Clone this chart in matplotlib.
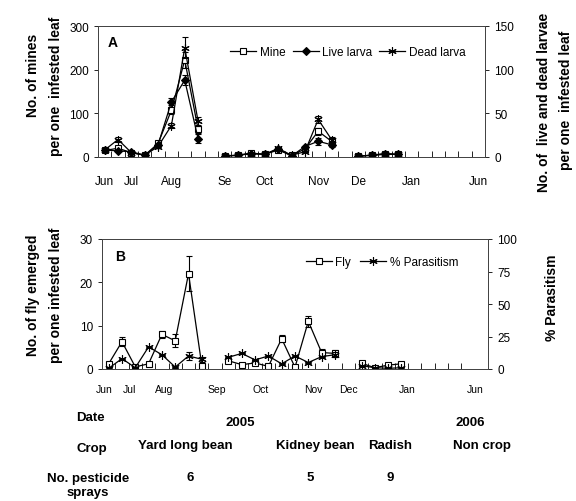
import numpy as np
import matplotlib
matplotlib.use("Agg")
import matplotlib.pyplot as plt
from matplotlib.lines import Line2D

plt.rcParams['font.family'] = ['Liberation Sans', 'DejaVu Sans']

nan = np.nan
# 29 sampling slots (Jun 2005 .. Jun 2006), gaps = crop change / no sampling
n_slots = 29

# Panel A - mines (left axis), larvae (right axis)
mine = [15, 20, 10, 4, 31, 107, 222, 64, nan, 3, 4, 9, 6, 16, 4, 18, 59, 36, nan, 2, 4, 7, 6] + [nan] * 6
mine_err = [0, 3, 0, 0, 0, 8, 18, 10, 0, 0, 0, 0, 0, 0, 0, 0, 8, 5, 0, 0, 0, 0, 0] + [0] * 6
live = [8, 7, 6, 2, 14, 63, 88, 21, nan, 1, 2, 4, 3, 9, 1, 12, 18, 14, nan, 1, 2, 3, 3] + [nan] * 6
live_err = [0, 0, 0, 0, 0, 4, 6, 5, 0, 0, 0, 0, 0, 0, 0, 0, 4, 3, 0, 0, 0, 0, 0] + [0] * 6
dead = [8, 20, 5, 2, 12, 36, 125, 41, nan, 1, 2, 4, 3, 10, 2, 6, 43, 20, nan, 1, 2, 4, 3] + [nan] * 6
dead_err = [0, 3, 0, 0, 0, 3, 12, 5, 0, 0, 0, 0, 0, 0, 0, 0, 4, 3, 0, 0, 0, 0, 0] + [0] * 6

# Panel B - flies emerged (left axis), % parasitism (right axis)
fly = [1.2, 6.3, 0.5, 1.2, 8.0, 6.5, 22, 0.8, nan, 1.9, 1.0, 1.4, 0.6, 7.0, 0.4, 11.0, 3.8, 3.6, nan, 1.3, 0.3, 0.9, 1.2] + [nan] * 6
fly_err = [0, 1.0, 0, 0, 0.8, 1.5, 4.0, 0, 0, 0, 0, 0, 0, 0.8, 0, 1.2, 0.8, 0.8, 0, 0, 0, 0, 0] + [0] * 6
paras = [0.5, 8, 1, 17, 11, 1.5, 10, 7.5, nan, 9, 12, 7, 10, 4, 10, 5, 9.5, 11, nan, 2.5, 1, 0.5, 1] + [nan] * 6
paras_err = [0, 0, 0, 0, 0, 0, 3, 2, 0, 0, 0, 0, 0, 0, 0, 0, 0, 2, 0, 0, 0, 0, 0] + [0] * 6

months_a = ['Jun', 'Jul', 'Aug', 'Se', 'Oct', 'Nov', 'De', 'Jan', 'Jun']
months_a_pos = [0, 2, 5, 9, 12, 16, 19, 23, 28]
months_b = ['Jun', 'Jul', 'Aug', 'Sep', 'Oct', 'Nov', 'Dec', 'Jan', 'Jun']
months_b_pos = [-0.35, 1.6, 4.2, 8.1, 11.4, 15.4, 18.0, 22.4, 27.5]

crops = ['Yard long bean', 'Kidney bean', 'Radish', 'Non crop']
crop_x = [185, 315, 390, 482]
sprays = ['6', '5', '9']
spray_x = [190, 310, 390]

x = np.arange(n_slots)
star = (6, 2, 0)

fig = plt.figure(figsize=(5.76, 5.02), dpi=100)


def px(xp, yp):
    return xp / 576, 1 - yp / 502


def setup_x(ax, pos, labels, fs, pad):
    ax.set_xlim(-0.5, n_slots - 0.5)
    ax.set_xticks(pos)
    ax.set_xticklabels(labels, fontsize=fs)
    ax.tick_params(axis='x', length=0, pad=pad)
    ax.set_xticks(np.arange(0.5, n_slots - 0.5, 1), minor=True)
    ax.tick_params(axis='x', which='minor', direction='in', length=4, width=0.6)


styles = {'Mine': ('s', 'white', 4.5), 'Live larva': ('D', 'black', 3.8),
          'Dead larva': (star, 'black', 6), 'Fly': ('s', 'white', 4.5),
          '% Parasitism': (star, 'black', 6)}


def series(ax, y, err, label):
    m, fc, ms = styles[label]
    ax.errorbar(x, y, yerr=err, color='black', lw=0.9, marker=m, ms=ms,
                mfc=fc, mec='black', mew=0.8, capsize=2.5, elinewidth=0.8)


def handle(label):
    m, fc, ms = styles[label]
    return Line2D([], [], color='black', lw=0.9, marker=m, ms=ms, mfc=fc, mec='black', mew=0.8)


# ---- panel A ----
axA = fig.add_axes([98 / 576, 1 - 158 / 502, 387 / 576, 131 / 502])
axA2 = axA.twinx()
series(axA, mine, mine_err, 'Mine')
series(axA2, live, live_err, 'Live larva')
series(axA2, dead, dead_err, 'Dead larva')
axA.set_ylim(0, 300)
axA.set_yticks([0, 100, 200, 300])
axA2.set_ylim(0, 150)
axA2.set_yticks([0, 50, 100, 150])
setup_x(axA, months_a_pos, months_a, 8.5, 13)

# ---- panel B ----
axB = fig.add_axes([102 / 576, 1 - 370 / 502, 386 / 576, 130 / 502])
axB2 = axB.twinx()
series(axB, fly, fly_err, 'Fly')
series(axB2, paras, paras_err, '% Parasitism')
axB.set_ylim(0, 30)
axB.set_yticks([0, 10, 20, 30])
axB2.set_ylim(0, 100)
axB2.set_yticks([0, 25, 50, 75, 100])
setup_x(axB, months_b_pos, months_b, 7.5, 11)

for a in [axA, axA2, axB, axB2]:
    a.tick_params(axis='y', labelsize=8.5, length=3, width=0.6)
    for s in a.spines.values():
        s.set_linewidth(0.7)
        s.set_color('#444444')

# legends
labA = ['Mine', 'Live larva', 'Dead larva']
fig.legend([handle(l) for l in labA], labA, loc='center', bbox_to_anchor=px(348, 53), ncol=3,
           frameon=False, fontsize=8.5, handlelength=2.2, handletextpad=0.3, columnspacing=0.6)
labB = ['Fly', '% Parasitism']
fig.legend([handle(l) for l in labB], labB, loc='center', bbox_to_anchor=px(382, 263), ncol=2,
           frameon=False, fontsize=8.5, handlelength=2.2, handletextpad=0.3, columnspacing=0.8)

# panel letters
fig.text(*px(113, 43), 'A', fontsize=10, fontweight='bold', va='center', ha='center')
fig.text(*px(120, 257), 'B', fontsize=10, fontweight='bold', va='center', ha='center')

# axis titles
bold = dict(fontsize=10, fontweight='bold', rotation=90, ha='center', va='center')
fig.text(*px(33, 75), 'No. of mines', **bold)
fig.text(*px(56, 86), 'per one  infested leaf', **bold)
fig.text(*px(544, 102), 'No. of  live and dead larvae', **bold)
fig.text(*px(566, 100), 'per one  infested leaf', **bold)
fig.text(*px(33, 295), 'No. of fly emerged', **bold)
fig.text(*px(56, 295), 'per one infested leaf', **bold)
fig.text(*px(552, 298), '% Parasitism', **bold)

# table below
tb = dict(fontsize=9.5, fontweight='bold', ha='center', va='center')
fig.text(*px(90, 418), 'Date', **tb)
fig.text(*px(240, 423), '2005', **tb)
fig.text(*px(470, 423), '2006', **tb)
fig.text(*px(92, 449), 'Crop', **tb)
for c, cx in zip(crops, crop_x):
    fig.text(*px(cx, 446), c, **tb)
fig.text(*px(88, 486), 'No. pesticide\nsprays', linespacing=1.3, **tb)
for s, sx in zip(sprays, spray_x):
    fig.text(*px(sx, 478), s, **tb)

fig.savefig('out.png', dpi=100)
